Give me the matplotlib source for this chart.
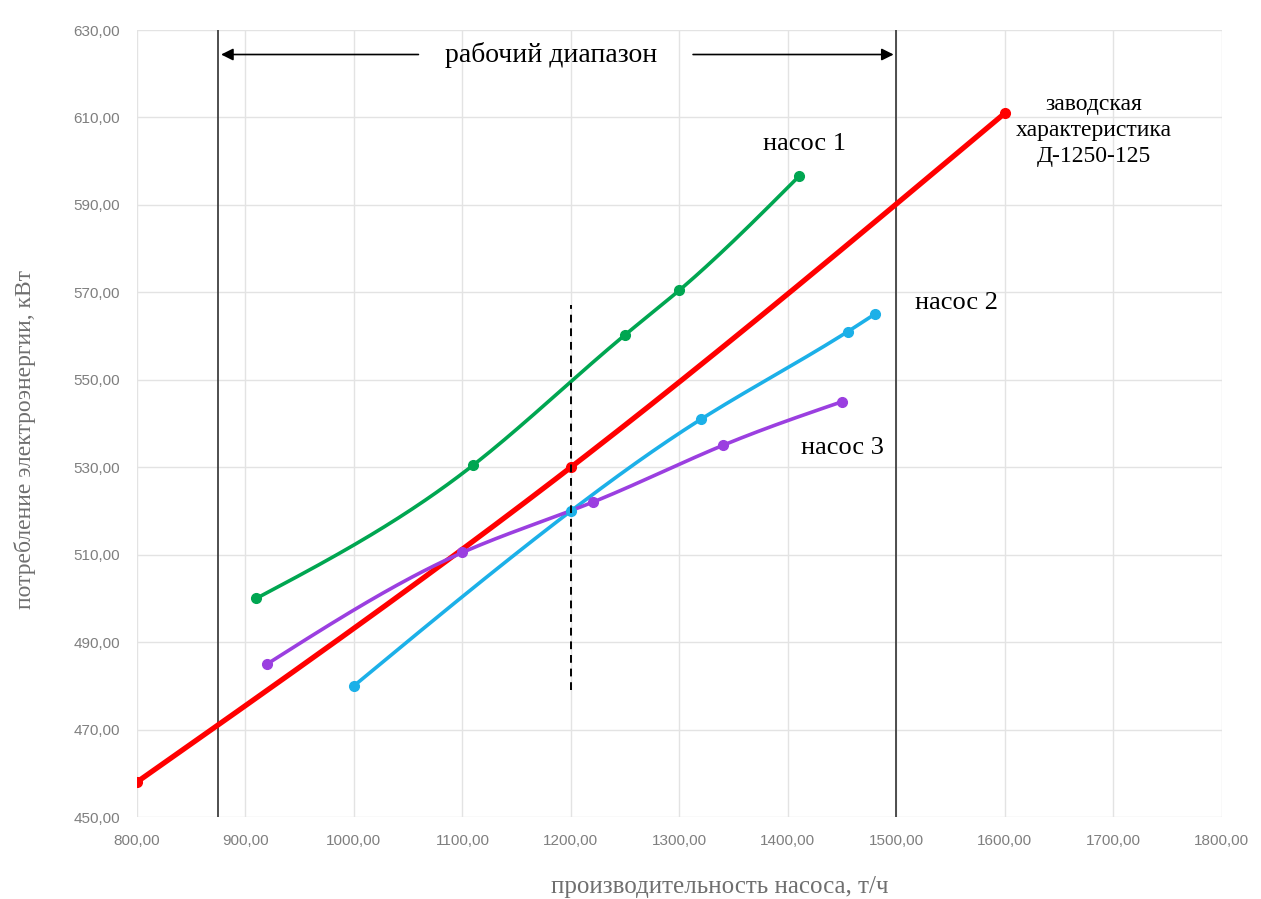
import numpy as np
import matplotlib
matplotlib.use('Agg')
import matplotlib.pyplot as plt
from matplotlib.ticker import FuncFormatter

# data
factory_x = [800, 1200, 1600]
factory_y = [458, 530, 611]
pump1_x = [910, 1110, 1250, 1300, 1410]
pump1_y = [500, 530.5, 560.3, 570.5, 596.5]
pump2_x = [1000, 1200, 1320, 1455, 1480]
pump2_y = [480, 520, 541, 561, 565]
pump3_x = [920, 1100, 1220, 1340, 1450]
pump3_y = [485, 510.5, 522, 535, 545]

range_left = 875
range_right = 1500
marker_x = 1200
marker_y = [479, 567]


def smooth(xs, ys, n=200):
    # natural cubic spline through the points (Excel-like smoothed line)
    x = np.asarray(xs, float)
    y = np.asarray(ys, float)
    m = len(x)
    h = np.diff(x)
    A = np.zeros((m, m))
    b = np.zeros(m)
    A[0, 0] = A[-1, -1] = 1
    for i in range(1, m - 1):
        A[i, i - 1] = h[i - 1]
        A[i, i] = 2 * (h[i - 1] + h[i])
        A[i, i + 1] = h[i]
        b[i] = 6 * ((y[i + 1] - y[i]) / h[i] - (y[i] - y[i - 1]) / h[i - 1])
    M = np.linalg.solve(A, b)
    xx = np.linspace(x[0], x[-1], n)
    k = np.clip(np.searchsorted(x, xx) - 1, 0, m - 2)
    t0 = x[k + 1] - xx
    t1 = xx - x[k]
    hk = h[k]
    yy = (M[k] * t0 ** 3 + M[k + 1] * t1 ** 3) / (6 * hk) \
        + (y[k] / hk - M[k] * hk / 6) * t0 + (y[k + 1] / hk - M[k + 1] * hk / 6) * t1
    return xx, yy


serif = 'Liberation Serif'
fig = plt.figure(figsize=(12.61, 8.99), dpi=100)
ax = fig.add_axes([0.1086, 0.0912, 0.8604, 0.8754])

series = [
    (factory_x, factory_y, '#ff0000', 3.8),
    (pump1_x, pump1_y, '#00a651', 2.6),
    (pump2_x, pump2_y, '#1cb0e8', 2.6),
    (pump3_x, pump3_y, '#9b3fe0', 2.6),
]
for xs, ys, col, lw in series:
    sx, sy = smooth(xs, ys)
    ax.plot(sx, sy, color=col, lw=lw, solid_capstyle='round', zorder=3)
    ax.plot(xs, ys, 'o', color=col, ms=7, zorder=4)

ax.axvline(range_left, color='#404040', lw=1.3, zorder=2)
ax.axvline(range_right, color='#404040', lw=1.3, zorder=2)
ax.plot([marker_x, marker_x], marker_y, color='black', lw=1.4, ls=(0, (4, 3)), zorder=5)

ax.set_xlim(800, 1800)
ax.set_ylim(450, 630)
ax.set_xticks(np.arange(800, 1801, 100))
ax.set_yticks(np.arange(450, 631, 20))
fmt = FuncFormatter(lambda v, p: f'{v:.2f}'.replace('.', ','))
ax.xaxis.set_major_formatter(fmt)
ax.yaxis.set_major_formatter(fmt)
ax.tick_params(length=0, labelsize=11, labelcolor='#7f7f7f', pad=12)
for lab in ax.get_xticklabels() + ax.get_yticklabels():
    lab.set_family('Liberation Sans')
ax.grid(True, color='#e3e3e3', lw=1.0, zorder=0)
for s in ax.spines.values():
    s.set_visible(False)

ax.set_xlabel('производительность насоса, т/ч', family=serif, fontsize=18,
              color='#6f6f6f', labelpad=18)
ax.xaxis.set_label_coords(0.537, -0.075)
ax.set_ylabel('потребление электроэнергии, кВт', family=serif, fontsize=17,
              color='#6f6f6f')
ax.yaxis.set_label_coords(-0.093, 0.48)

# working range annotation
y_arr = 624.4
ax.annotate('', xy=(range_left, y_arr), xytext=(1062, y_arr),
            arrowprops=dict(arrowstyle='-|>', color='black', lw=1.2, mutation_scale=18))
ax.annotate('', xy=(range_right, y_arr), xytext=(1310, y_arr),
            arrowprops=dict(arrowstyle='-|>', color='black', lw=1.2, mutation_scale=18))
ax.text(1182, y_arr, 'рабочий диапазон', family=serif, fontsize=20,
        ha='center', va='center')

ax.text(1415, 604, 'насос 1', family=serif, fontsize=19, ha='center', va='center')
ax.text(1555, 567.5, 'насос 2', family=serif, fontsize=19, ha='center', va='center')
ax.text(1450, 534.5, 'насос 3', family=serif, fontsize=19, ha='center', va='center')
ax.text(1682, 607, 'заводская\nхарактеристика\nД-1250-125', family=serif,
        fontsize=17, ha='center', va='center', linespacing=1.3)

fig.savefig('out.png', dpi=100)
